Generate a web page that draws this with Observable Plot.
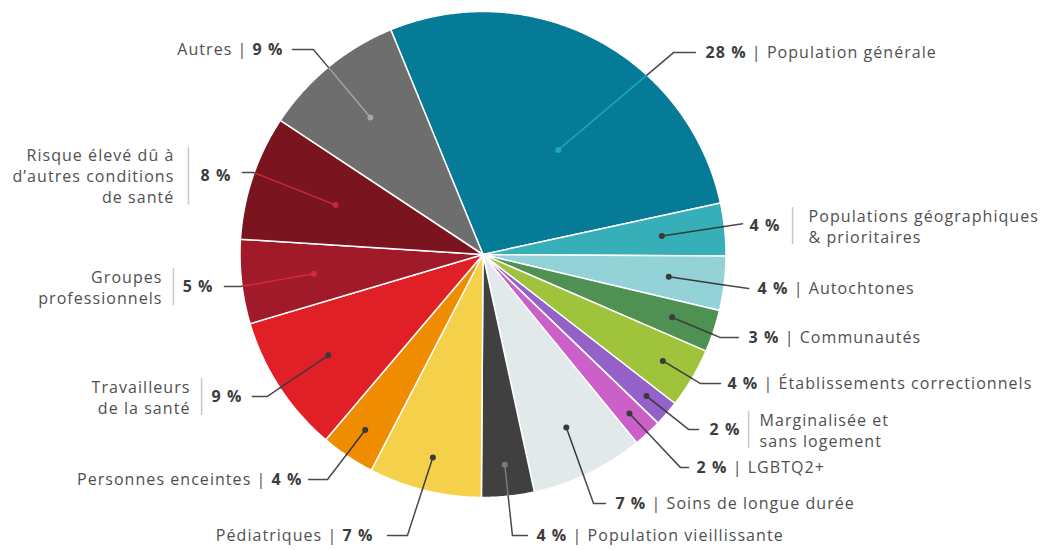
<!DOCTYPE html>
<html><head><meta charset="utf-8">
<script src="https://cdn.jsdelivr.net/npm/d3@7"></script>
<script src="https://cdn.jsdelivr.net/npm/@observablehq/plot@0.6"></script>
<style>
html,body{margin:0;padding:0;background:#fff;}
#chart{width:1041px;height:550px;}
#chart text{letter-spacing:1.05px;}
</style></head><body><div id="chart"></div>
<script>
// ---------- data ----------
const categories = [
  "Population générale",
  "Populations géographiques\n& prioritaires",
  "Autochtones",
  "Communautés",
  "Établissements correctionnels",
  "Marginalisée et\nsans logement",
  "LGBTQ2+",
  "Soins de longue durée",
  "Population vieillissante",
  "Pédiatriques",
  "Personnes enceintes",
  "Travailleurs\nde la santé",
  "Groupes\nprofessionnels",
  "Risque élevé dû à\nd’autres conditions\nde santé",
  "Autres"
];
const shares = [27.8, 3.5, 3.6, 2.8, 4.0, 1.7, 1.9, 7.5, 3.5, 7.5, 3.6, 9.2, 5.6, 8.3, 9.5];
const percentLabels = ["28 %", "4 %", "4 %", "3 %", "4 %", "2 %", "2 %", "7 %", "4 %", "7 %", "4 %", "9 %", "5 %", "8 %", "9 %"];

// ---------- style ----------
const sliceColors = ["#067b97", "#36afb9", "#93d3d8", "#4f9153", "#9fc33b", "#9461c8", "#cc60c9", "#e1e9ea",
  "#404040", "#f5d04b", "#ef8c00", "#e01f27", "#a11a29", "#7a141f", "#6e6e6e"];
const innerLineColors = ["#1aa8c8", "#3a3a3a", "#3a3a3a", "#3a3a3a", "#3a3a3a", "#3a3a3a", "#3a3a3a", "#3a3a3a",
  "#7a7a7a", "#3a3a3a", "#3a3a3a", "#3a3a3a", "#d3293b", "#c42739", "#a5a5a5"];
const startAngle = -22.3; // degrees, clockwise from 12 o'clock
const LETTER_SPACING = 1.05; // px

// ---------- annotation layout (in pie-radius units, relative to the pie centre) ----------
const labelLayout = [
  {side: "R", dr: 0.53, nudge: 8, ex: 0.784, ey: 0.831, hx: 0.874, tx: 0.916},
  {side: "R", dr: 0.74, nudge: 0, ex: 1.068, ey: 0.127, hx: 1.068, tx: 1.097, ty: 0.119, sep: 1.274, tx2: 1.340},
  {side: "R", dr: 0.77, nudge: 0, ex: 1.093, ey: -0.140, hx: 1.093, tx: 1.130},
  {side: "R", dr: 0.82, nudge: 0, ex: 0.977, ey: -0.342, hx: 1.051, tx: 1.093},
  {side: "R", dr: 0.86, nudge: 0, ex: 0.895, ey: -0.531, hx: 0.977, tx: 1.006},
  {side: "R", dr: 0.89, nudge: 0, ex: 0.846, ey: -0.720, hx: 0.887, tx: 0.932, sep: 1.093, tx2: 1.138},
  {side: "R", dr: 0.89, nudge: 0, ex: 0.813, ey: -0.877, hx: 0.846, tx: 0.879},
  {side: "R", dr: 0.79, nudge: 0, ex: 0.455, ey: -1.025, hx: 0.504, tx: 0.545},
  {side: "R", dr: 0.87, nudge: 0, ex: 0.121, ey: -1.156, hx: 0.183, tx: 0.220},
  {side: "L", dr: 0.86, nudge: 0, ex: -0.311, ey: -1.156, hx: -0.393, tx: -0.451},
  {side: "L", dr: 0.87, nudge: 0, ex: -0.640, ey: -0.926, hx: -0.718, tx: -0.743},
  {side: "L", dr: 0.76, nudge: 0, ex: -0.887, ey: -0.584, hx: -0.949, tx: -0.990, sep: -1.158, tx2: -1.204},
  {side: "L", dr: 0.70, nudge: 0, ex: -0.998, ey: -0.132, hx: -1.064, tx: -1.109, sep: -1.274, tx2: -1.319},
  {side: "L", dr: 0.64, nudge: 0, ex: -0.944, ey: 0.337, hx: -0.990, tx: -1.035, ty: 0.325, sep: -1.212, tx2: -1.270},
  {side: "L", dr: 0.73, nudge: 0, ex: -0.698, ey: 0.844, hx: -0.784, tx: -0.821}
];

// ---------- geometry ----------
const W = 1041, H = 550, RPX = 243, CX = 482.5, CY = 254;
const toRad = Math.PI / 180;
const total = d3.sum(shares);
let acc = startAngle;
const slices = shares.map((v, i) => {
  const a0 = acc; acc += v / total * 360;
  return {i, a0, a1: acc, mid: (a0 + acc) / 2};
});
const pieVerts = slices.flatMap(s => {
  const pts = [{i: s.i, x: 0, y: 0}];
  const n = Math.max(4, Math.ceil((s.a1 - s.a0) / 0.4));
  for (let k = 0; k <= n; k++) {
    const a = (s.a0 + (s.a1 - s.a0) * k / n) * toRad;
    pts.push({i: s.i, x: Math.sin(a), y: Math.cos(a)});
  }
  return pts;
});

// leader lines
const dots = [], innerSeg = [], outerSeg = [];
slices.forEach(s => {
  const L = labelLayout[s.i];
  const a = (s.mid + L.nudge) * toRad;
  const px = L.dr * Math.sin(a), py = L.dr * Math.cos(a);
  dots.push({i: s.i, x: px, y: py});
  const dx = L.ex - px, dy = L.ey - py;
  const A = dx * dx + dy * dy, B = 2 * (px * dx + py * dy), C = px * px + py * py - 1;
  let t = (-B + Math.sqrt(B * B - 4 * A * C)) / (2 * A);
  t = Math.min(1, t);
  const qx = px + t * dx, qy = py + t * dy;
  innerSeg.push({i: s.i, x: px, y: py}, {i: s.i, x: qx, y: qy});
  outerSeg.push({i: s.i, x: qx, y: qy}, {i: s.i, x: L.ex, y: L.ey}, {i: s.i, x: L.hx, y: L.ey});
});

// text measurement
const FONT = "'Open Sans', sans-serif", FS = 16;
const ctx = document.createElement("canvas").getContext("2d");
function tw(text, weight) {
  ctx.font = `${weight} ${FS}px 'Open Sans'`;
  return (ctx.measureText(text).width + text.length * LETTER_SPACING) / RPX;
}
const spaceW = tw(" ", 400);

const boldTexts = [], regTexts = [], blockTexts = [], seps = [];
slices.forEach(s => {
  const L = labelLayout[s.i];
  const ty = L.ty ?? L.ey;
  const name = categories[s.i], pct = percentLabels[s.i];
  const multi = name.includes("\n");
  const anchor = L.side === "R" ? "start" : "end";
  boldTexts.push({x: L.tx, y: ty, text: pct, anchor});
  if (multi) {
    const n = name.split("\n").length;
    const half = (n * 21 - 5) / 2 / RPX;
    seps.push({x: L.sep, y1: ty - half, y2: ty + half});
    blockTexts.push({x: L.tx2, y: ty, text: name, anchor});
  } else if (L.side === "R") {
    regTexts.push({x: L.tx + tw(pct, 700) + spaceW, y: ty, text: "| " + name, anchor: "start"});
  } else {
    regTexts.push({x: L.tx - tw(pct, 700) - spaceW, y: ty, text: name + " |", anchor: "end"});
  }
});

const chart = Plot.plot({
  width: W, height: H, margin: 0,
  style: {background: "#fff"},
  x: {domain: [-CX / RPX, (W - CX) / RPX], axis: null},
  y: {domain: [(CY - H) / RPX, CY / RPX], axis: null},
  color: {type: "identity"},
  marks: [
    Plot.line(pieVerts, {x: "x", y: "y", z: "i", fill: d => sliceColors[d.i], stroke: "#ffffff",
      strokeWidth: 1.5, strokeLinejoin: "round", curve: "linear-closed"}),
    Plot.line(innerSeg, {x: "x", y: "y", z: "i", stroke: d => innerLineColors[d.i], strokeWidth: 1.5}),
    Plot.line(outerSeg, {x: "x", y: "y", z: "i", stroke: "#4a4a4a", strokeWidth: 1.5}),
    Plot.dot(dots, {x: "x", y: "y", r: 3, fill: d => innerLineColors[d.i], stroke: "none"}),
    Plot.link(seps, {x1: "x", x2: "x", y1: "y1", y2: "y2", stroke: "#c8c8c8", strokeWidth: 1.5}),
    Plot.text(boldTexts.filter(d => d.anchor === "start"), {x: "x", y: "y", text: "text", textAnchor: "start",
      fontFamily: FONT, fontSize: FS, fontWeight: 700, fill: "#3c3c3c"}),
    Plot.text(boldTexts.filter(d => d.anchor === "end"), {x: "x", y: "y", text: "text", textAnchor: "end",
      fontFamily: FONT, fontSize: FS, fontWeight: 700, fill: "#3c3c3c"}),
    Plot.text(regTexts.filter(d => d.anchor === "start"), {x: "x", y: "y", text: "text", textAnchor: "start",
      fontFamily: FONT, fontSize: FS, fill: "#505050"}),
    Plot.text(regTexts.filter(d => d.anchor === "end"), {x: "x", y: "y", text: "text", textAnchor: "end",
      fontFamily: FONT, fontSize: FS, fill: "#505050"}),
    Plot.text(blockTexts.filter(d => d.anchor === "start"), {x: "x", y: "y", text: "text", textAnchor: "start",
      lineAnchor: "middle", lineHeight: 21 / FS, fontFamily: FONT, fontSize: FS, fill: "#505050"}),
    Plot.text(blockTexts.filter(d => d.anchor === "end"), {x: "x", y: "y", text: "text", textAnchor: "end",
      lineAnchor: "middle", lineHeight: 21 / FS, fontFamily: FONT, fontSize: FS, fill: "#505050"})
  ]
});
document.getElementById("chart").appendChild(chart);
</script>
</body></html>
